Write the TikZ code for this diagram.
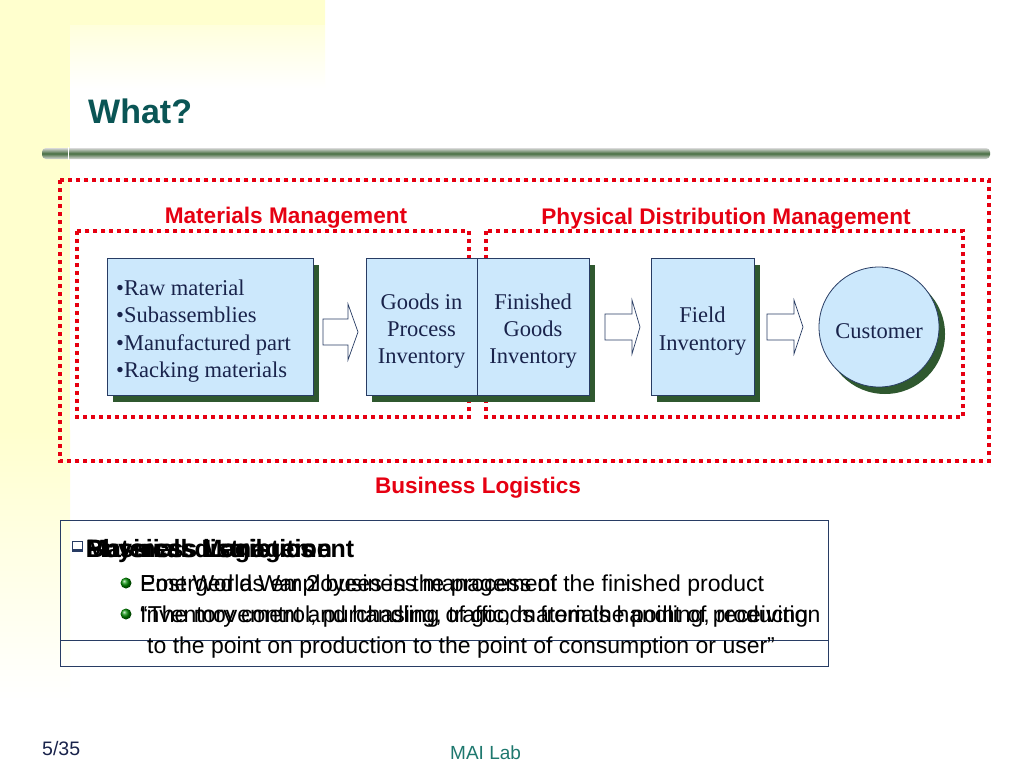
\documentclass[tikz,border=0pt]{standalone}
\usepackage{fontspec}
\setmainfont{Liberation Serif}
\setsansfont{Liberation Sans}
\newfontfamily\ssf{Liberation Sans}
\newfontfamily\rmf{Liberation Serif}
\usetikzlibrary{shadows}
\definecolor{redc}{RGB}{230,0,18}
\definecolor{titlec}{RGB}{10,85,85}
\definecolor{boxfill}{RGB}{204,232,252}
\definecolor{boxline}{RGB}{40,60,100}
\definecolor{shadowc}{RGB}{47,88,47}
\definecolor{navy}{RGB}{25,35,75}
\definecolor{barc}{RGB}{72,110,66}
\definecolor{labc}{RGB}{30,120,110}
\definecolor{paley}{RGB}{255,255,206}
\tikzset{
 dotbox/.style={draw=redc, line width=4pt, dash pattern=on 4pt off 4pt},
 box/.style={draw=boxline, fill=boxfill, line width=0.8pt,
   drop shadow={shadow xshift=6pt, shadow yshift=-7pt, fill=shadowc, opacity=1}, inner sep=0pt},
 btx/.style={font=\rmf\fontsize{22.5}{27.3}\selectfont, text=navy, inner sep=0pt, align=center},
 redlab/.style={font=\ssf\bfseries\fontsize{22.6}{23}\selectfont, text=redc, anchor=base, inner sep=0pt},
 harrow/.style={draw=boxline, fill=white, line width=0.7pt},
 btext/.style={font=\ssf\fontsize{23}{26}\selectfont, text=black, anchor=base west, inner sep=0pt},
 htext/.style={font=\ssf\bfseries\fontsize{25}{27}\selectfont, text=black, anchor=base west, inner sep=0pt},
}
\begin{document}
\begin{tikzpicture}[x=1pt,y=-1pt]
\useasboundingbox (0,0) rectangle (1024,768);
% background
\fill[white] (0,0) rectangle (1024,768);
\fill[paley] (0,0) rectangle (70,430);
\shade[top color=paley, bottom color=white] (0,430) rectangle (70,700);
\shade[top color=paley, bottom color=white] (70,0) rectangle (325,88);
\fill[paley] (0,0) rectangle (325,25);
% title
\node[font=\ssf\bfseries\fontsize{34}{34}\selectfont, text=titlec, anchor=base west, inner sep=0pt] (title) at (88,123) {What?};
% bar
\shade[top color=white!85!black, bottom color=white!85!black, middle color=barc, rounded corners=4pt] (42,148) rectangle (990,159);
\draw[white, line width=0.8pt] (68,147) -- (68,160);
% dotted frames
\draw[dotbox] (60,180) rectangle (989,461);
\draw[dotbox] (77,231) rectangle (469,417);
\draw[dotbox] (486,231) rectangle (963,417);
% labels
\node[redlab] (mm) at (286,223) {Materials Management};
\node[redlab] (pdm) at (726,224) {Physical Distribution Management};
\node[redlab] (bl) at (478,493) {Business Logistics};
% boxes
\node[box, minimum width=206pt, minimum height=137pt] (raw) at (210,326.5) {};
\node[box, minimum width=111pt, minimum height=137pt] (gip) at (421.5,326.5) {};
\node[box, minimum width=112pt, minimum height=137pt] (fgi) at (533,326.5) {};
\node[box, minimum width=103pt, minimum height=137pt] (fi) at (702.5,326.5) {};
\node[box, circle, minimum size=120pt] (cust) at (879,327) {};
\node[btx, align=left, anchor=west] (rawt) at (116,331) {•Raw material\\•Subassemblies\\•Manufactured part\\•Racking materials};
\node[btx] (gipt) at (421.5,331) {Goods in\\Process\\Inventory};
\node[btx] (fgit) at (533,331) {Finished\\Goods\\Inventory};
\node[btx] (fit) at (702.5,331) {Field\\Inventory};
\node[btx] (custt) at (879,331) {Customer};
% block arrows
\draw[harrow] (323,319) -- (348,319) -- (348,304) -- (358,332) -- (348,360) -- (348,345) -- (323,345) -- cycle;
\draw[harrow] (605,314) -- (632,314) -- (632,300) -- (640,327) -- (632,354) -- (632,340) -- (605,340) -- cycle;
\draw[harrow] (767,314) -- (794,314) -- (794,300) -- (803,327) -- (794,354) -- (794,340) -- (767,340) -- cycle;
% bottom text box
\draw[boxline, line width=0.8pt] (60,520) rectangle (828,640);
\draw[boxline, line width=0.8pt] (60,520) rectangle (828,666);
\draw[boxline, fill=white, line width=1pt] (72,541) rectangle (82,551);
\fill[boxline] (72,549) rectangle (82,551);
\node[htext] (h1) at (86,557) {Physical distribution};
\node[htext] (h2) at (86,557) {Business Logistics};
\node[htext] (h3) at (86,557) {Materials Management};
\shade[ball color=green!55!black] (126,583) circle (5.5pt);
\shade[ball color=green!55!black] (126,614) circle (5.5pt);
\node[btext] (l1a) at (140,591) {Post World War 2 business management};
\node[btext] (l1b) at (140,591) {Emerged as employees in the process of the finished product};
\node[btext] (l2a) at (140,622) {“The movement and handling of goods from the point of production};
\node[btext] (l2b) at (140,622) {Inventory control, purchasing, traffic, materials handling, receiving};
\node[btext] (l3) at (147,653) {to the point on production to the point of consumption or user”};
% footer
\node[font=\ssf\fontsize{19.5}{19.5}\selectfont, text=navy, anchor=base west, inner sep=0pt] (pg) at (42,755) {5/35};
\node[font=\ssf\fontsize{19}{19}\selectfont, text=labc, anchor=base west, inner sep=0pt] (lab) at (450,759) {MAI Lab};
\end{tikzpicture}
\end{document}
